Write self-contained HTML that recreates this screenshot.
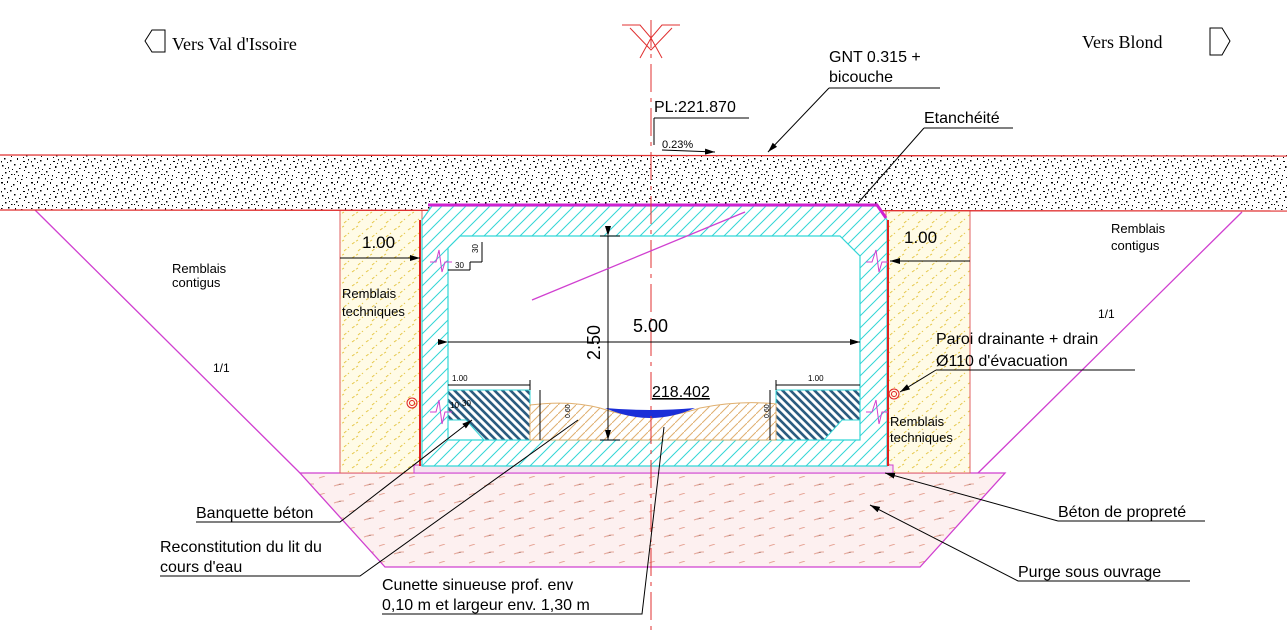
<!DOCTYPE html>
<html><head><meta charset="utf-8"><style>
html,body{margin:0;padding:0;background:#fff;}
svg{display:block;}
text{font-family:"Liberation Sans",sans-serif;}
</style></head><body>
<svg width="1287" height="642" viewBox="0 0 1287 642" xmlns="http://www.w3.org/2000/svg">
<defs>
<pattern id="grav" width="30" height="30" patternUnits="userSpaceOnUse">
<rect width="30" height="30" fill="#fff"/>
<g fill="#000">
<rect x="1" y="2" width="2" height="1.5"/><rect x="7" y="1" width="1" height="2"/><rect x="13" y="4" width="1.5" height="1.5"/><rect x="20" y="2" width="1" height="2"/><rect x="26" y="5" width="1.5" height="1.5"/>
<rect x="4" y="8" width="1.5" height="1.5"/><rect x="10" y="10" width="1.5" height="1.5"/><rect x="17" y="8" width="1" height="2"/><rect x="23" y="11" width="2" height="1"/><rect x="28" y="9" width="1" height="1.5"/>
<rect x="2" y="15" width="1.5" height="1.5"/><rect x="8" y="17" width="1" height="1.5"/><rect x="14" y="14" width="1.5" height="1.5"/><rect x="19" y="18" width="1.5" height="1"/><rect x="25" y="16" width="1.5" height="2"/>
<rect x="5" y="22" width="1.5" height="1.5"/><rect x="11" y="24" width="1.5" height="1"/><rect x="16" y="21" width="1.5" height="1.5"/><rect x="22" y="25" width="1" height="1.5"/><rect x="28" y="22" width="1.5" height="1"/>
<rect x="1" y="28" width="1.5" height="1"/><rect x="8" y="27" width="1.5" height="1.5"/><rect x="15" y="28" width="1" height="1.5"/><rect x="21" y="29" width="1.5" height="1"/><rect x="12" y="19" width="1" height="1"/>
<rect x="4" y="4" width="1" height="1"/><rect x="17" y="1" width="1" height="1"/><rect x="23" y="7" width="1" height="1"/><rect x="1" y="11" width="1" height="1.5"/><rect x="7" y="12" width="1" height="1"/>
<rect x="20" y="14" width="1" height="1"/><rect x="27" y="13" width="1" height="1"/><rect x="5" y="18" width="1" height="1"/><rect x="24" y="20" width="1" height="1"/><rect x="2" y="25" width="1" height="1"/>
<rect x="18" y="25" width="1" height="1"/><rect x="26" y="27" width="1" height="1"/><rect x="11" y="6" width="1" height="1"/><rect x="14" y="24" width="1" height="1"/><rect x="9" y="21" width="1" height="1"/>
</g></pattern>
<pattern id="cyan" width="12" height="12" patternUnits="userSpaceOnUse">
<rect width="12" height="12" fill="#fff"/><path d="M0 12L12 0M-3 3L3 -3M9 15L15 9" stroke="#33d6d6" stroke-width="1"/></pattern>
<pattern id="yel" width="14" height="14" patternUnits="userSpaceOnUse">
<rect width="14" height="14" fill="#fffbe6"/><path d="M2 6L8 2M8 13L13 9" stroke="#e6c84a" stroke-width="1" stroke-dasharray="3 2"/></pattern>
<pattern id="blue" width="8" height="8" patternUnits="userSpaceOnUse">
<rect width="8" height="8" fill="#fff"/><path d="M0 0L8 8M-4 4L4 12M4 -4L12 4" stroke="#2b5c80" stroke-width="2.6"/></pattern>
<pattern id="sand" width="9" height="9" patternUnits="userSpaceOnUse">
<rect width="9" height="9" fill="#fff"/><path d="M0 9L9 0" stroke="#e0b070" stroke-width="1"/></pattern>
<pattern id="purge" width="30" height="17" patternUnits="userSpaceOnUse">
<rect width="30" height="17" fill="#fdf0f0"/><path d="M4 10L10 8L14 8M19 2L25 0" stroke="#e8a89a" stroke-width="1"/></pattern>
<marker id="ar" markerWidth="10" markerHeight="6" refX="10" refY="3" orient="auto" markerUnits="userSpaceOnUse"><path d="M0 0L10 3L0 6z" fill="#000"/></marker>
</defs>

<path d="M35 210L300 473M1242 212L978 473" stroke="#d040d0" stroke-width="1.3" fill="none"/>
<path d="M300 473L1005 473L920 567L385 567Z" fill="url(#purge)" stroke="#d040d0" stroke-width="1.3"/>
<rect x="340" y="210" width="82" height="263" fill="url(#yel)" stroke="#e06060" stroke-width="1"/>
<rect x="886" y="210" width="84" height="263" fill="url(#yel)" stroke="#e06060" stroke-width="1"/>
<rect x="414" y="465" width="479" height="8" fill="#f6e4f0" stroke="#d040d0" stroke-width="1"/>
<rect x="0" y="155" width="1287" height="55" fill="url(#grav)"/>
<line x1="0" y1="155" x2="1287" y2="156" stroke="#e03030" stroke-width="1.3"/>
<line x1="0" y1="210" x2="1287" y2="211" stroke="#e03030" stroke-width="1.3"/>
<path d="M422 220L432 206L877 206L887 220L887 466L422 466Z" fill="url(#cyan)" stroke="#33d6d6" stroke-width="1.2"/>
<path d="M428 205L877 205L886 218" stroke="#d020d0" stroke-width="3" fill="none"/>
<path d="M420 220L420 466M888 220L888 466" stroke="#e02020" stroke-width="2"/>
<path d="M448 248L460 236L840 236L860 256L860 440L448 440Z" fill="#fff" stroke="#33d6d6" stroke-width="1.2"/>
<path d="M448 390L530 390L530 440L484 440L466 420L448 420Z" fill="url(#blue)" stroke="#33d6d6"/>
<path d="M776 390L860 390L860 420L842 420L824 440L776 440Z" fill="url(#blue)" stroke="#33d6d6"/>
<path d="M530 405Q570 400 600 408Q650 425 700 408Q740 400 776 404L776 440L530 440Z" fill="url(#sand)" stroke="#e0b070"/>
<path d="M605 408Q650 428 695 408Q650 412 605 408Z" fill="#1a2ed8"/>
<line x1="651" y1="20" x2="651" y2="632" stroke="#e03030" stroke-width="1" stroke-dasharray="28 6 4 6"/>
<path d="M622 25L640 25L651 38L662 25L680 25M640 58L651 38L662 58M630 28L651 50L672 28" stroke="#e03030" fill="none" stroke-width="1"/>
<g stroke="#000" stroke-width="1" fill="none">
<line x1="448" y1="342" x2="860" y2="342" marker-end="url(#ar)" marker-start="url(#ar)"/>
<line x1="608" y1="236" x2="608" y2="440" marker-end="url(#ar)" marker-start="url(#ar)"/>
<line x1="600" y1="236" x2="620" y2="236"/><line x1="600" y1="440" x2="620" y2="440"/>
<line x1="340" y1="258" x2="420" y2="258" marker-end="url(#ar)"/>
<line x1="970" y1="261" x2="890" y2="261" marker-end="url(#ar)"/>
<line x1="448" y1="385" x2="530" y2="385"/><line x1="530" y1="380" x2="530" y2="390"/>
<line x1="776" y1="385" x2="860" y2="385"/><line x1="776" y1="380" x2="776" y2="390"/>
<line x1="540" y1="390" x2="540" y2="440"/><line x1="770" y1="390" x2="770" y2="440"/>
<line x1="482" y1="242" x2="482" y2="262"/><line x1="470" y1="262" x2="482" y2="262"/><line x1="470" y1="262" x2="470" y2="270"/>
<line x1="448" y1="270" x2="470" y2="270"/>
</g>
<path d="M532 300L745 212" stroke="#d040d0" stroke-width="1.3"/>
<g stroke="#d040d0" fill="none" stroke-width="1">
<path d="M430 262L436 262L439 250L442 272L445 262L452 262"/>
<path d="M430 412L436 412L439 400L442 424L445 412L452 412"/>
<path d="M866 262L872 262L876 250L879 272L882 262L888 262"/>
<path d="M866 412L872 412L876 400L879 424L882 412L888 412"/>
</g>
<g stroke="#e02020" fill="none"><circle cx="412" cy="403" r="5"/><circle cx="412" cy="403" r="2.5"/><circle cx="894" cy="394" r="5"/><circle cx="894" cy="394" r="2.5"/></g>

<g fill="#000">
<text x="362" y="248" font-size="17">1.00</text>
<text x="904" y="243" font-size="17">1.00</text>
<text x="633" y="332" font-size="18">5.00</text>
<text transform="translate(600 360) rotate(-90)" font-size="18">2.50</text>
<text x="652" y="397" font-size="16" text-decoration="underline">218.402</text>
</g>
<g font-size="8" fill="#000">
<text x="452" y="381">1.00</text><text x="808" y="381">1.00</text>
<text transform="translate(478 253) rotate(-90)">30</text><text x="455" y="268">30</text>
<text transform="translate(570 418) rotate(-90)" font-size="7">0.60</text>
<text transform="translate(769 418) rotate(-90)" font-size="7">0.60</text>
<text x="450" y="408">10</text><text x="462" y="406">30</text>
</g>
<g font-size="13" fill="#000">
<text x="172" y="273">Remblais</text><text x="172" y="287">contigus</text>
<text x="1111" y="233">Remblais</text><text x="1111" y="250">contigus</text>
<text x="342" y="298">Remblais</text><text x="342" y="316">techniques</text>
<text x="890" y="426">Remblais</text><text x="890" y="442">techniques</text>
<text x="213" y="372" font-size="12">1/1</text><text x="1098" y="318" font-size="12">1/1</text>
</g>
<g font-size="16" fill="#000">
<text x="829" y="62">GNT 0.315 +</text><text x="829" y="82">bicouche</text>
<text x="924" y="123">Etanchéité</text>
<text x="654" y="112">PL:221.870</text>
<text x="662" y="148" font-size="11">0.23%</text>
<text x="936" y="344">Paroi drainante + drain</text>
<text x="936" y="366">Ø110 d'évacuation</text>
<text x="196" y="518">Banquette béton</text>
<text x="160" y="552">Reconstitution du lit du</text>
<text x="160" y="572">cours d'eau</text>
<text x="382" y="590">Cunette sinueuse prof. env</text>
<text x="382" y="610">0,10 m et largeur env. 1,30 m</text>
<text x="1058" y="517">Béton de propreté</text>
<text x="1018" y="577">Purge sous ouvrage</text>
</g>
<text x="172" y="50" style="font-family:'Liberation Serif',serif;font-size:18px">Vers Val d'Issoire</text>
<text x="1082" y="48" style="font-family:'Liberation Serif',serif;font-size:18px">Vers Blond</text>
<path d="M152 30L165 30L165 52L152 52L145 41Z" fill="none" stroke="#000"/>
<path d="M1210 28L1222 28L1230 41L1222 55L1210 55Z" fill="none" stroke="#000"/>
<g stroke="#000" stroke-width="1" fill="none">
<path d="M829 88L940 88"/><path d="M829 88L768 152" marker-end="url(#ar)"/>
<path d="M924 128L1013 128M924 128L858 203"/>
<path d="M654 118L749 118M654 118L654 145"/>
<path d="M662 150L715 152" marker-end="url(#ar)"/>
<path d="M936 370L1135 370M936 370L900 392" marker-end="url(#ar)"/>
<path d="M196 522L340 522L472 420" marker-end="url(#ar)"/>
<path d="M160 576L360 576L578 420"/>
<path d="M382 614L642 614L664 427"/>
<path d="M1058 521L1205 521M1058 521L885 473" marker-end="url(#ar)"/>
<path d="M1018 581L1190 581M1018 581L870 505" marker-end="url(#ar)"/>
</g>
</svg>
</body></html>
